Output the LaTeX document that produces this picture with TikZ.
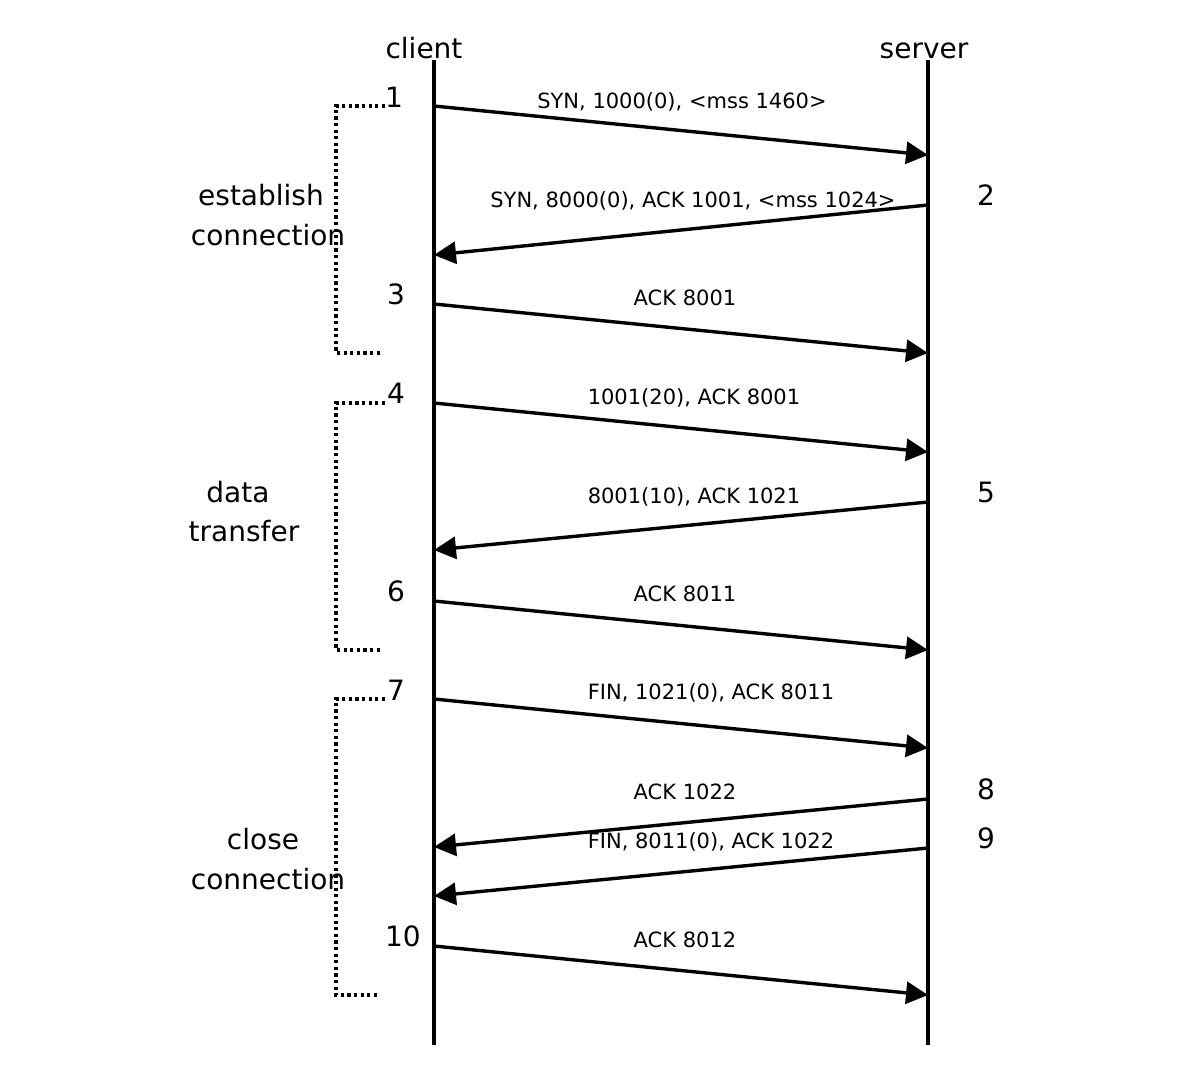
\documentclass[tikz,border=0pt]{standalone}
\usepackage{fontspec}
\setmainfont{DejaVu Sans}
\usetikzlibrary{arrows.meta}
\begin{document}
\begin{tikzpicture}[x=0.5pt,y=-0.5pt,
  life/.style={line width=1.7pt},
  msg/.style={line width=1.7pt,-{Triangle[length=11pt,width=11pt]}},
  brk/.style={line width=1.9pt,dash pattern=on 1.6pt off 1.7pt},
  big/.style={font=\fontsize{14pt}{16pt}\selectfont,inner sep=0pt,anchor=base},
  small/.style={font=\fontsize{10.5pt}{12pt}\selectfont,inner sep=0pt,anchor=base},
  num/.style={font=\fontsize{14pt}{16pt}\selectfont,inner sep=0pt,anchor=base}]
\useasboundingbox[fill=white] (0,0) rectangle (1200,1084);
% lifelines
\coordinate (ctop) at (434,60); \coordinate (cbot) at (434,1045);
\coordinate (stop) at (928,60); \coordinate (sbot) at (928,1045);
\draw[life] (ctop) -- (cbot);
\draw[life] (stop) -- (sbot);
\node[big] (client) at (424,58) {client};
\node[big] (server) at (924,58) {server};
% message end points
\foreach \i/\a/\b in {1/106/155,2/255/205,3/304/353,4/403/452,5/550/502,6/601/650,7/699/748,8/847/799,9/896/848,10/946/995}{
  \coordinate (c\i) at (434,\a);
  \coordinate (s\i) at (928,\b);
}
\draw[msg] (c1) -- (s1);
\draw[msg] (s2) -- (c2);
\draw[msg] (c3) -- (s3);
\draw[msg] (c4) -- (s4);
\draw[msg] (s5) -- (c5);
\draw[msg] (c6) -- (s6);
\draw[msg] (c7) -- (s7);
\draw[msg] (s8) -- (c8);
\draw[msg] (s9) -- (c9);
\draw[msg] (c10) -- (s10);
% message labels
\node[small] (m1) at (682,108) {SYN, 1000(0), <mss 1460>};
\node[small] (m2) at (693,207) {SYN, 8000(0), ACK 1001, <mss 1024>};
\node[small] (m3) at (685,305) {ACK 8001};
\node[small] (m4) at (694,404) {1001(20), ACK 8001};
\node[small] (m5) at (694,503) {8001(10), ACK 1021};
\node[small] (m6) at (685,601) {ACK 8011};
\node[small] (m7) at (711,699) {FIN, 1021(0), ACK 8011};
\node[small] (m8) at (685,799) {ACK 1022};
\node[small] (m9) at (711,848) {FIN, 8011(0), ACK 1022};
\node[small] (m10) at (685,947) {ACK 8012};
% numbers
\node[num] (n1) at (394,107) {1};
\node[num] (n2) at (986,205) {2};
\node[num] (n3) at (396,304) {3};
\node[num] (n4) at (396,403) {4};
\node[num] (n5) at (986,502) {5};
\node[num] (n6) at (396,601) {6};
\node[num] (n7) at (396,700) {7};
\node[num] (n8) at (986,799) {8};
\node[num] (n9) at (986,848) {9};
\node[num] (n10) at (403,946) {10};
% brackets
\foreach \t/\b/\k in {106/353/1,403/650/2,699/995/3}{
  \coordinate (bt\k) at (385,\t);
  \coordinate (bb\k) at (380,\b);
  \draw[brk] (bt\k) -- (336,\t) -- (336,\b) -- (bb\k);
}
% phase labels
\node[big] (p1a) at (261,205) {establish};
\node[big] (p1b) at (268,245) {connection};
\node[big] (p2a) at (238,502) {data};
\node[big] (p2b) at (244,541) {transfer};
\node[big] (p3a) at (263,849) {close};
\node[big] (p3b) at (268,889) {connection};
\end{tikzpicture}
\end{document}
